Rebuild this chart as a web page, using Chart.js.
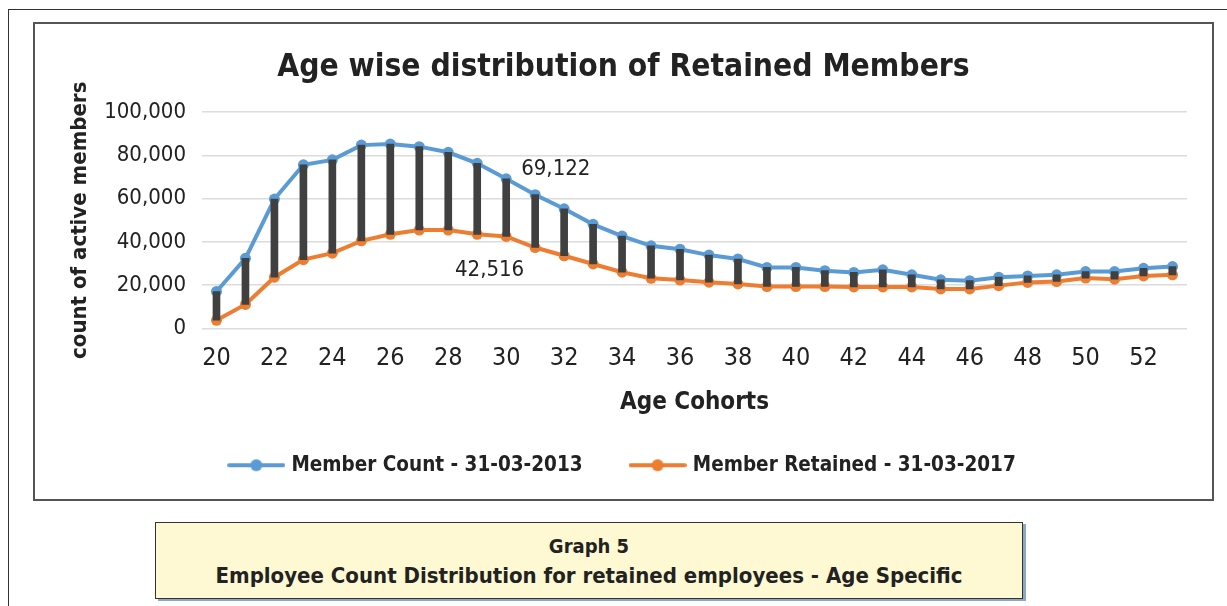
<!DOCTYPE html>
<html>
<head>
<meta charset="utf-8">
<script src="https://cdn.jsdelivr.net/npm/chart.js@4.4.1/dist/chart.umd.min.js"></script>
<style>
  html, body { margin: 0; padding: 0; background: #fff; }
  body { width: 1227px; height: 606px; position: relative; overflow: hidden; font-family: "DejaVu Sans Condensed", "DejaVu Sans", sans-serif; }
  #frame { position: absolute; left: 8px; top: 9px; width: 1230px; height: 610px; border-left: 1.5px solid #333; border-top: 1.5px solid #333; }
  #box { position: absolute; left: 33px; top: 22px; width: 1181px; height: 479px; border: 2px solid #555; box-sizing: border-box; background: #fff; }
  #box canvas { position: absolute; left: 0; top: 0; }
  #caption { position: absolute; left: 155px; top: 522px; width: 868px; height: 77px; box-sizing: border-box;
    background: #fef9d3; border: 1px solid #333; box-shadow: 3px 2px 0 #8fa8c8;
    text-align: center; font-weight: bold; color: #222; line-height: 28px; padding-top: 9px; }
  #caption .l1 { font-size: 20px; }
  #caption .l2 { font-size: 22px; }
</style>
</head>
<body>
<div id="frame"></div>
<div id="box"><canvas id="chart" width="1177" height="475"></canvas></div>
<div id="caption"><span class="l1">Graph 5</span><br><span class="l2">Employee Count Distribution for retained employees - Age Specific</span></div>
<script>
// age cohorts (x axis categories)
const ages = ['20','21','22','23','24','25','26','27','28','29','30','31','32','33','34','35','36','37',
  '38','39','40','41','42','43','44','45','46','47','48','49','50','51','52','53'];

// Member Count - 31-03-2013
const memberCount = [17100, 32400, 59800, 75600, 77900, 84700, 85200, 84000, 81400, 76300, 69122, 61800,
  55300, 48100, 42700, 38200, 36600, 33900, 32100, 28200, 28200, 26700, 25900, 27100, 24800, 22500,
  22100, 23700, 24300, 24800, 26300, 26300, 27800, 28600];

// Member Retained - 31-03-2017
const memberRetained = [3800, 11100, 23700, 31800, 34800, 40500, 43500, 45500, 45500, 43500, 42516, 37400,
  33600, 29800, 26000, 23200, 22400, 21400, 20600, 19400, 19400, 19400, 19200, 19200, 19200, 18300,
  18300, 19800, 21300, 21700, 23300, 22800, 24300, 24800];

const yTicks = [0, 20000, 40000, 60000, 80000, 100000];
const labelledIndex = 10; // the age 30 values are written on the chart

const BLUE = '#5b9bd5';
const ORANGE = '#ed7d31';
const FONT = '"DejaVu Sans Condensed", "DejaVu Sans", sans-serif';

// line with a dot, like the legend keys in the original
function legendIcon(color) {
  const c = document.createElement('canvas');
  c.width = 58; c.height = 14;
  const g = c.getContext('2d');
  g.strokeStyle = color; g.lineWidth = 4; g.lineCap = 'round';
  g.beginPath(); g.moveTo(2, 7); g.lineTo(56, 7); g.stroke();
  g.fillStyle = color;
  g.beginPath(); g.arc(29, 7, 6, 0, Math.PI * 2); g.fill();
  return c;
}
const icons = [null, legendIcon(BLUE), legendIcon(ORANGE)];

const valueLabels = {
  id: 'valueLabels',
  afterDatasetsDraw(chart) {
    const ctx = chart.ctx;
    ctx.save();
    ctx.font = '22px ' + FONT;
    ctx.fillStyle = '#222';
    ctx.textBaseline = 'middle';
    const p1 = chart.getDatasetMeta(1).data[labelledIndex];
    ctx.textAlign = 'left';
    ctx.fillText(memberCount[labelledIndex].toLocaleString('en-US'), p1.x + 15, p1.y - 10);
    const p2 = chart.getDatasetMeta(2).data[labelledIndex];
    ctx.textAlign = 'right';
    ctx.fillText(memberRetained[labelledIndex].toLocaleString('en-US'), p2.x + 18, p2.y + 34);
    ctx.restore();
  }
};

new Chart(document.getElementById('chart'), {
  data: {
    labels: ages,
    datasets: [
      {
        type: 'bar',
        label: 'gap',
        data: ages.map((a, i) => [memberRetained[i], memberCount[i]]),
        backgroundColor: '#404040',
        barThickness: 7,
        order: 0
      },
      {
        type: 'line',
        label: 'Member Count - 31-03-2013',
        data: memberCount,
        borderColor: BLUE,
        backgroundColor: BLUE,
        borderWidth: 4,
        pointRadius: 5.5,
        pointBorderWidth: 0,
        pointBackgroundColor: BLUE,
        order: 1
      },
      {
        type: 'line',
        label: 'Member Retained - 31-03-2017',
        data: memberRetained,
        borderColor: ORANGE,
        backgroundColor: ORANGE,
        borderWidth: 4,
        pointRadius: 5.5,
        pointBorderWidth: 0,
        pointBackgroundColor: ORANGE,
        order: 2
      }
    ]
  },
  options: {
    responsive: false,
    animation: false,
    events: [],
    layout: { padding: { left: 25, right: 25, top: 0, bottom: 13.5 } },
    plugins: {
      title: {
        display: true,
        text: 'Age wise distribution of Retained Members',
        color: '#222',
        font: { family: FONT, size: 31.5, weight: 'bold' },
        padding: { top: 25.1, bottom: 25.1 }
      },
      legend: {
        position: 'bottom',
        labels: {
          usePointStyle: true,
          pointStyleWidth: 50,
          color: '#222',
          font: { family: FONT, size: 20.5, weight: 'bold' },
          padding: 50,
          generateLabels(chart) {
            return chart.data.datasets.slice(1).map((ds, i) => ({
              text: ds.label, datasetIndex: i + 1, pointStyle: icons[i + 1],
              fillStyle: ds.borderColor, strokeStyle: ds.borderColor, lineWidth: 0, hidden: false,
              fontColor: '#222'
            }));
          }
        }
      },
      tooltip: { enabled: false }
    },
    scales: {
      x: {
        type: 'category',
        offset: true,
        grid: { display: false, drawTicks: false },
        border: { display: false },
        ticks: {
          autoSkip: false, maxRotation: 0, padding: 14.6, color: '#222',
          font: { family: FONT, size: 25 },
          callback(v, i) { return Number(ages[i]) % 2 === 0 ? ages[i] : ''; }
        },
        title: {
          display: true, text: 'Age Cohorts', color: '#222',
          font: { family: FONT, size: 24, weight: 'bold' },
          padding: { top: 0, bottom: -11.9 }
        },
        afterFit(scale) { scale.height = 76.5; }
      },
      y: {
        min: 0, max: 100000,
        afterBuildTicks(scale) { scale.ticks = yTicks.map(v => ({ value: v })); },
        grid: { color: '#dcdcdc', lineWidth: 1.5, drawTicks: false },
        border: { display: false },
        ticks: {
          padding: 16, color: '#222',
          font: { family: FONT, size: 22 },
          callback: v => v.toLocaleString('en-US')
        },
        title: {
          display: true, text: 'count of active members', color: '#222',
          font: { family: FONT, size: 22, weight: 'bold' },
          padding: { top: 6.8, bottom: 0 }
        },
        afterFit(scale) { scale.width = 142; }
      }
    }
  },
  plugins: [valueLabels]
});
</script>
</body>
</html>
